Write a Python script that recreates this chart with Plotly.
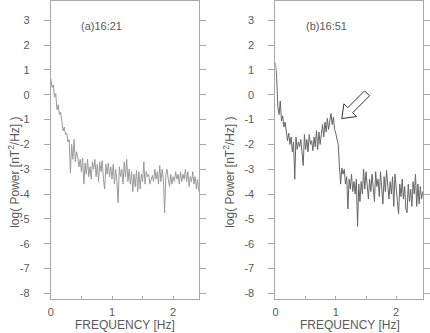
import plotly.graph_objects as go

# ---------------- data ----------------
freq_a = [0.00, 0.02, 0.04, 0.06, 0.08, 0.10, 0.12, 0.14, 0.16, 0.18,
          0.20, 0.22, 0.24, 0.26, 0.28, 0.30, 0.32, 0.34, 0.36, 0.38,
          0.40, 0.42, 0.44, 0.46, 0.48, 0.50, 0.52, 0.54, 0.56, 0.58,
          0.60, 0.62, 0.64, 0.66, 0.68, 0.70, 0.72, 0.74, 0.76, 0.78,
          0.80, 0.82, 0.84, 0.86, 0.88, 0.90, 0.92, 0.94, 0.96, 0.98,
          1.00, 1.02, 1.04, 1.06, 1.08, 1.10, 1.12, 1.14, 1.16, 1.18,
          1.20, 1.22, 1.24, 1.26, 1.28, 1.30, 1.32, 1.34, 1.36, 1.38,
          1.40, 1.42, 1.44, 1.46, 1.48, 1.50, 1.52, 1.54, 1.56, 1.58,
          1.60, 1.62, 1.64, 1.66, 1.68, 1.70, 1.72, 1.74, 1.76, 1.78,
          1.80, 1.82, 1.84, 1.86, 1.88, 1.90, 1.92, 1.94, 1.96, 1.98,
          2.00, 2.02, 2.04, 2.06, 2.08, 2.10, 2.12, 2.14, 2.16, 2.18,
          2.20, 2.22, 2.24, 2.26, 2.28, 2.30, 2.32, 2.34, 2.36, 2.38,
          2.40, 2.42]
power_a = [0.65, 0.30, 0.40, -0.10, 0.05, -0.60, -0.40, -0.80, -0.70, -1.20,
           -1.45, -1.30, -1.60, -1.55, -1.90, -1.80, -3.15, -2.00, -2.60, -1.80,
           -2.70, -2.30, -2.50, -2.90, -2.60, -3.10, -2.55, -3.60, -2.75, -3.20,
           -2.60, -3.30, -2.90, -3.40, -2.70, -3.00, -2.60, -3.30, -2.80, -3.50,
           -2.70, -3.10, -2.65, -3.40, -3.80, -2.80, -3.20, -2.75, -3.30, -2.90,
           -3.40, -2.80, -3.60, -3.00, -3.50, -4.35, -2.90, -3.30, -3.00, -3.60,
           -2.70, -3.30, -2.60, -3.50, -3.00, -3.60, -3.10, -3.90, -3.20, -3.70,
           -3.05, -3.90, -3.10, -3.80, -3.20, -3.50, -2.70, -3.60, -3.10, -3.30,
           -3.20, -3.60, -3.40, -3.25, -3.50, -3.00, -3.40, -3.10, -3.60, -2.85,
           -3.50, -3.00, -3.40, -4.75, -3.20, -3.00, -3.40, -3.70, -3.20, -3.60,
           -3.30, -3.50, -3.10, -3.40, -3.20, -3.60, -3.10, -3.50, -3.20, -3.40,
           -3.00, -3.50, -3.10, -3.70, -3.30, -3.50, -3.10, -3.60, -3.30, -3.80,
           -3.40, -3.90]

freq_b = [0.00, 0.02, 0.04, 0.06, 0.08, 0.10, 0.12, 0.14, 0.16, 0.18,
          0.20, 0.22, 0.24, 0.26, 0.28, 0.30, 0.32, 0.34, 0.36, 0.38,
          0.40, 0.42, 0.44, 0.46, 0.48, 0.50, 0.52, 0.54, 0.56, 0.58,
          0.60, 0.62, 0.64, 0.66, 0.68, 0.70, 0.72, 0.74, 0.76, 0.78,
          0.80, 0.82, 0.84, 0.86, 0.88, 0.90, 0.92, 0.94, 0.96, 0.98,
          1.00, 1.02, 1.04, 1.06, 1.08, 1.10, 1.12, 1.14, 1.16, 1.18,
          1.20, 1.22, 1.24, 1.26, 1.28, 1.30, 1.32, 1.34, 1.36, 1.38,
          1.40, 1.42, 1.44, 1.46, 1.48, 1.50, 1.52, 1.54, 1.56, 1.58,
          1.60, 1.62, 1.64, 1.66, 1.68, 1.70, 1.72, 1.74, 1.76, 1.78,
          1.80, 1.82, 1.84, 1.86, 1.88, 1.90, 1.92, 1.94, 1.96, 1.98,
          2.00, 2.02, 2.04, 2.06, 2.08, 2.10, 2.12, 2.14, 2.16, 2.18,
          2.20, 2.22, 2.24, 2.26, 2.28, 2.30, 2.32, 2.34, 2.36, 2.38,
          2.40, 2.42, 2.44]
power_b = [1.29, 0.70, -0.50, -0.80, -0.25, -1.05, -0.85, -1.30, -1.10, -1.50,
           -1.85, -1.55, -2.00, -1.70, -2.30, -1.90, -3.40, -1.70, -2.20, -1.90,
           -2.10, -1.80, -2.40, -2.85, -1.60, -2.20, -1.80, -2.30, -1.60, -2.00,
           -1.85, -2.25, -1.70, -2.10, -1.45, -2.20, -1.50, -2.00, -1.60, -1.20,
           -1.70, -1.10, -1.50, -0.95, -1.40, -1.00, -0.75, -1.20, -0.90, -1.40,
           -1.55, -1.80, -2.00, -2.90, -3.60, -2.95, -3.20, -3.00, -3.60, -3.30,
           -4.60, -3.40, -3.80, -3.20, -3.90, -3.50, -4.00, -3.40, -5.30, -3.60,
           -4.30, -3.50, -4.00, -3.00, -3.80, -3.10, -3.70, -4.20, -3.40, -3.90,
           -3.20, -3.80, -4.30, -3.10, -3.70, -3.40, -4.10, -3.10, -3.80, -4.40,
           -3.30, -3.90, -3.05, -3.70, -4.20, -3.50, -4.00, -3.30, -4.50, -3.20,
           -3.90, -4.30, -4.80, -3.60, -4.10, -3.40, -4.20, -3.70, -4.60, -4.75,
           -3.60, -4.30, -3.80, -4.50, -3.50, -4.00, -3.20, -4.50, -3.60, -4.40,
           -3.70, -4.20, -3.90]

panel_labels = ["(a)16:21", "(b)16:51"]
y_tickvals = [-8, -7, -6, -5, -4, -3, -2, -1, 0, 1, 2, 3]
y_ticktext = ["-8", "-7", "-6", "-5", "-4", "-3", "-2", "-1", "0", "1", "2", "3"]
x_tickvals = [0, 1, 2]
x_ticktext = ["0", "1", "2"]
y_title = "log( Power [nT<sup>2</sup>/Hz] )"
x_title = "FREQUENCY [Hz]"

# ---------------- figure ----------------
W, H = 430, 333
FONT = "Liberation Sans, Arial, sans-serif"
TXT = "#5a5a5a"
AX = "#a8a8a8"

fig = go.Figure()
fig.add_trace(go.Scatter(x=freq_a, y=power_a, mode="lines",
                         line=dict(color="#9a9a9a", width=1),
                         xaxis="x", yaxis="y", showlegend=False))
fig.add_trace(go.Scatter(x=freq_b, y=power_b, mode="lines",
                         line=dict(color="#666666", width=1),
                         xaxis="x2", yaxis="y2", showlegend=False))

yr = [-8.21, 3.76]
x_common = dict(showline=True, linecolor=AX, linewidth=1, mirror=True,
                ticks="inside", ticklen=3, tickcolor=AX,
                tickvals=x_tickvals, ticktext=x_ticktext,
                minor=dict(dtick=0.5, tick0=0, ticks="inside", ticklen=3,
                           tickcolor=AX, showgrid=False),
                ticklabelstandoff=3,
                showgrid=False, zeroline=False,
                tickfont=dict(family=FONT, size=11, color=TXT))
y_common = dict(range=yr, showline=True, linecolor=AX, linewidth=1, mirror="ticks",
                ticks="outside", ticklen=6, tickcolor=AX,
                tickvals=y_tickvals, ticktext=y_ticktext,
                ticklabelstandoff=12,
                showgrid=False, zeroline=False,
                tickfont=dict(family=FONT, size=11, color=TXT))

y_dom = [1 - 299.3 / H, 1 - 0.5 / H]
fig.update_layout(
    width=W, height=H,
    margin=dict(l=0, r=0, t=0, b=0),
    paper_bgcolor="white", plot_bgcolor="white",
    xaxis=dict(domain=[48.3 / W, 197.7 / W], range=[0, 2.42], anchor="y", **x_common),
    yaxis=dict(domain=y_dom, anchor="x", **y_common),
    xaxis2=dict(domain=[275 / W, 424.3 / W], range=[0, 2.45], anchor="y2", **x_common),
    yaxis2=dict(domain=y_dom, anchor="x2", **y_common),
)

ann_font = dict(family=FONT, size=11, color=TXT)
annotations = []
# panel labels
for lab, px in zip(panel_labels, [77, 304]):
    annotations.append(dict(text=lab, x=px / W, y=1 - 25 / H, xref="paper", yref="paper",
                            xanchor="left", yanchor="middle", showarrow=False, font=ann_font))
# y-axis titles
for px in [11, 228]:
    annotations.append(dict(text=y_title, x=px / W, y=1 - 172 / H, xref="paper", yref="paper",
                            xanchor="center", yanchor="middle", textangle=-90,
                            showarrow=False, font=dict(family=FONT, size=12, color=TXT)))
# x-axis titles
for px in [123, 350]:
    annotations.append(dict(text=x_title, x=px / W, y=1 - 326 / H, xref="paper", yref="paper",
                            xanchor="center", yanchor="middle", showarrow=False,
                            font=dict(family=FONT, size=12, color=TXT)))
fig.update_layout(annotations=annotations)

# hollow block arrow in panel (b) (pixel geometry -> data coordinates)
def to_data_b(px, py):
    f = (px - 275) / (149.3 / 2.45)
    v = yr[1] - py / 25.0
    return f, v

arrow_px = [(342, 118), (356.9, 115.9), (353, 112), (370, 95), (365, 90),
            (348, 107), (344.1, 103.1)]
pts = [to_data_b(x, y) for x, y in arrow_px]
path = "M " + " L ".join(f"{f:.4f},{v:.4f}" for f, v in pts) + " Z"
fig.add_shape(type="path", path=path, xref="x2", yref="y2",
              line=dict(color="#333333", width=1), fillcolor="white")

fig.write_html("out.html")
